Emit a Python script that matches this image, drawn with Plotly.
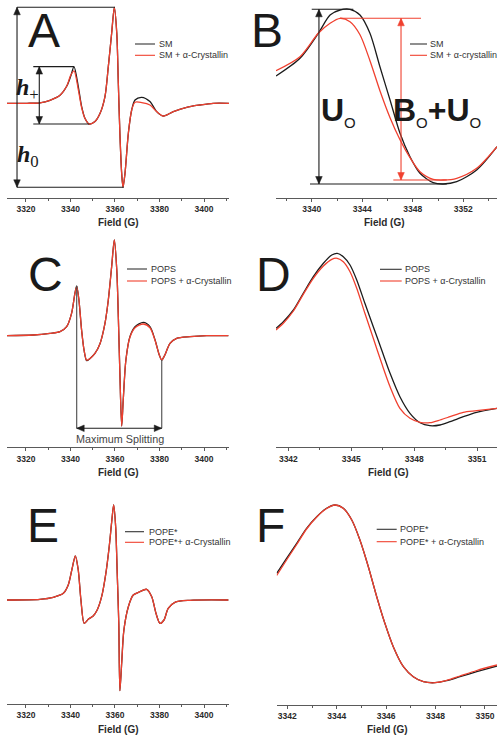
import plotly.graph_objects as go

W, H = 497, 738

# ---------------- data ----------------
# Panel A : SM (full spectrum)
field_A = [3311.5, 3320.5, 3326.3, 3330.8, 3335.3, 3338.3, 3340.1, 3341.6, 3343.5, 3345.0,
           3346.5, 3348.4, 3351.0, 3353.3, 3355.5, 3357.0, 3358.5, 3359.7, 3360.8, 3361.5,
           3362.2, 3363.0, 3363.6, 3364.5, 3366.0, 3367.5, 3369.0, 3372.0, 3375.7, 3378.7,
           3381.7, 3386.2, 3392.2, 3398.2, 3404.1, 3411.2]
sm_A = [0, 0, 0.5, 3, 8, 17, 27, 36.7, 17, -3,
        -15, -20.7, -18.3, -10, 6.7, 36.7, 70, 96, 70, 20,
        -30, -70, -84, -70, -30, -6.7, 3.3, 6, 1.7, -8.3,
        -12.7, -8.3, -4, -1.7, 0, 0]
sm_acr_A = [0, 0, 0.5, 3, 8, 17, 28, 32.5, 14, -4,
            -15, -20.7, -18.3, -10, 6.7, 36.7, 70, 96, 70, 20,
            -30, -70, -84, -70, -30, -6.7, 1, 0.7, -1.7, -8.3,
            -12.7, -8.3, -4, -1.7, 0, 0]

# Panel B : SM, low-field line zoom
field_B = [3337.17, 3339.07, 3340.52, 3341.45, 3342.24, 3343.03, 3343.82, 3344.61, 3345.40,
           3346.20, 3346.99, 3347.78, 3348.57, 3349.62, 3350.42, 3351.48, 3353.06, 3354.67]
sm_B = [121.7, 139.4, 164.4, 182.7, 187.7, 188.4, 182.7, 164.4, 131,
        97.7, 64.4, 41, 24.4, 15, 13.7, 16, 27.7, 51]
sm_acr_B = [127, 141, 164.4, 174.4, 179.4, 176, 163, 137, 107,
            80, 58, 40, 26, 18.4, 17.7, 19.4, 29.4, 51]

# Panel C : POPS (full spectrum)
field_C = [3311.5, 3323.3, 3330.8, 3335.3, 3338.3, 3340.5, 3342.0, 3342.8, 3343.8, 3345.0,
           3346.1, 3347.3, 3348.8, 3351.0, 3353.3, 3355.5, 3357.0, 3358.5, 3359.7, 3360.8,
           3361.5, 3362.2, 3363.0, 3363.7, 3364.9, 3366.7, 3369.0, 3372.7, 3375.7, 3378.0,
           3379.9, 3381.0, 3382.4, 3384.7, 3387.7, 3393.7, 3401.2, 3410.9]
pops_C = [0, 0.7, 2.3, 4, 9, 22.3, 42.3, 49.7, 35.7, 5.7,
          -14.3, -25, -22.7, -17.7, -7.7, 12.3, 35.7, 69, 95.7, 65.7,
          19, -37.7, -90.3, -64.3, -24.3, -1, 9, 13.3, 9, -4.3,
          -19.3, -24.3, -19.3, -7.7, -2.7, -1, 0, 0]
pops_acr_C = [0, 0.7, 2.3, 4, 9, 22.3, 42, 49, 35.7, 5.7,
              -14.3, -24.5, -22.7, -17.7, -7.7, 12.3, 35.7, 69, 95.7, 65.7,
              19, -37.7, -90.3, -64.3, -24.3, -1.5, 8, 11.7, 8, -4.8,
              -19.3, -24.3, -19.3, -7.7, -2.7, -1, 0, 0]

# Panel D : POPS, low-field line zoom
field_D = [3341.41, 3341.76, 3342.24, 3342.71, 3343.19, 3343.67, 3344.07, 3344.33, 3344.62,
           3344.94, 3345.26, 3345.65, 3346.05, 3346.45, 3346.85, 3347.32, 3347.80, 3348.28,
           3348.75, 3349.23, 3349.71, 3350.34, 3350.98, 3351.95]
pops_D = [119, 125.6, 137.3, 154, 170.6, 184, 192.3, 194, 190.6,
          182.3, 167.3, 144, 120.6, 97.3, 74, 50.6, 34, 24.6,
          21.6, 22.3, 25.6, 30.6, 35, 39]
pops_acr_D = [117.3, 124, 136.3, 153, 169, 181.3, 188, 189, 185.6,
              175.6, 159, 134, 109, 84, 60.6, 39, 29, 25,
              24.6, 27.3, 30.6, 35, 36.6, 39]

# Panel E : POPE* (full spectrum)
field_E = [3311.5, 3326.3, 3332.3, 3336.8, 3339.0, 3340.6, 3342.2, 3343.5, 3344.7, 3346.2,
           3348.0, 3350.2, 3352.0, 3354.0, 3355.9, 3357.4, 3358.6, 3359.4, 3360.3, 3361.0,
           3361.7, 3362.2, 3363.0, 3364.0, 3366.0, 3368.2, 3371.2, 3374.2, 3376.5, 3378.4,
           3380.2, 3382.0, 3383.9, 3386.9, 3393.7, 3410.9]
pope_E = [0, 0.7, 2.7, 6.7, 15, 30, 44, 30, 0, -23.3,
          -19.3, -16, -10, 3.3, 26.7, 53.3, 80, 95, 73.3, 26.7,
          -23.3, -90.7, -63.3, -30, -6.7, 5, 8.3, 10.7, 3.3, -13.3,
          -23.3, -20, -8.3, -2.3, -0.3, 0]
pope_acr_E = [0, 0.7, 2.7, 6.7, 15, 30, 44, 30, 0, -23.3,
              -19.3, -16, -10, 3.3, 26.7, 53.3, 80, 95, 73.3, 26.7,
              -23.3, -90.7, -63.3, -30, -6.7, 5, 8.3, 10.7, 3.3, -13.3,
              -23.3, -20, -8.3, -2.3, -0.3, 0]

# Panel F : POPE*, low-field line zoom
field_F = [3341.57, 3341.97, 3342.38, 3342.78, 3343.19, 3343.59, 3343.93, 3344.27, 3344.61,
           3344.94, 3345.28, 3345.62, 3345.95, 3346.29, 3346.70, 3347.10, 3347.51, 3347.98,
           3348.45, 3348.99, 3349.67, 3350.49]
pope_F = [131.7, 146.7, 161.7, 176.7, 188.3, 196.7, 200, 196.7, 185,
          165, 138.3, 108.3, 81.7, 58.3, 38.3, 28.3, 23.3, 22.3,
          24.3, 28.3, 33.3, 39]
pope_acr_F = [129.5, 145, 160.5, 176, 188, 196.5, 200, 196.5, 185,
              165, 138.3, 108.3, 81.7, 58.3, 38.3, 28.3, 23.3, 22.3,
              24.6, 29, 34.5, 40]

legend_A = ["SM", "SM + α-Crystallin"]
legend_B = ["SM", "SM + α-crystallin"]
legend_C = ["POPS", "POPS + α-Crystallin"]
legend_D = ["POPS", "POPS + α-Crystallin"]
legend_E = ["POPE*", "POPE*+ α-Crystallin"]
legend_F = ["POPE*", "POPE* + α-Crystallin"]

# ---------------- styling ----------------
BLACK = "#1c1c1c"
RED = "#f0402f"
GREY = "#4a4a4a"
FONT = "Liberation Sans"


def xd(x0, x1):
    return [x0 / W, x1 / W]


def yd(top, bot):
    return [1 - bot / H, 1 - top / H]


def PX(x, y):
    return x / W, 1 - y / H


fig = go.Figure()

panels = [
    ("", field_A, sm_A, sm_acr_A, legend_A),
    ("2", field_B, sm_B, sm_acr_B, legend_B),
    ("3", field_C, pops_C, pops_acr_C, legend_C),
    ("4", field_D, pops_D, pops_acr_D, legend_D),
    ("5", field_E, pope_E, pope_acr_E, legend_E),
    ("6", field_F, pope_F, pope_acr_F, legend_F),
]
for suf, fx, yb, yr, names in panels:
    fig.add_trace(go.Scatter(x=fx, y=yb, name=names[0], mode="lines",
                             line=dict(color=BLACK, width=1.3, shape="spline", smoothing=0.8),
                             xaxis="x" + suf, yaxis="y" + suf, showlegend=False))
    fig.add_trace(go.Scatter(x=fx, y=yr, name=names[1], mode="lines",
                             line=dict(color=RED, width=1.3, shape="spline", smoothing=0.8),
                             xaxis="x" + suf, yaxis="y" + suf, showlegend=False))


def xaxis(dom, rng, dtick, tick0, minor, anchor):
    return dict(domain=dom, range=rng, anchor=anchor, showline=True, linecolor="#5a5a5a",
                linewidth=1.3, ticks="outside", ticklen=3, tickcolor="#5a5a5a",
                tickwidth=1, dtick=dtick, tick0=tick0, showgrid=False, zeroline=False,
                tickfont=dict(family=FONT, size=8.5, color="#2a2a2a", weight="bold"),
                minor=dict(ticks="outside", ticklen=2, dtick=minor, tick0=tick0,
                           tickcolor="#5a5a5a", showgrid=False),
                fixedrange=True)


def yaxis(dom, rng, anchor):
    return dict(domain=dom, range=rng, anchor=anchor, visible=False, showgrid=False,
                zeroline=False, fixedrange=True)


full_rng = [3311.5, 3411.2]
layout = dict(
    width=W, height=H, margin=dict(l=0, r=0, t=0, b=0),
    paper_bgcolor="white", plot_bgcolor="white", showlegend=False,
    xaxis=xaxis(xd(7, 229), full_rng, 20, 3320, 10, "y"),
    yaxis=yaxis(yd(0, 197.7), [-94.4, 103.3], "x"),
    xaxis2=xaxis(xd(276, 497), [3337.17, 3354.67], 4, 3340, 2, "y2"),
    yaxis2=yaxis(yd(0, 197.7), [0, 197.7], "x2"),
    xaxis3=xaxis(xd(7, 229), full_rng, 20, 3320, 10, "y3"),
    yaxis3=yaxis(yd(238, 447.3), [-111.6, 97.7], "x3"),
    xaxis4=xaxis(xd(276, 497), [3341.41, 3351.95], 3, 3342, 1.5, "y4"),
    yaxis4=yaxis(yd(238, 447.3), [0, 209.3], "x4"),
    xaxis5=xaxis(xd(7, 229), full_rng, 20, 3320, 10, "y5"),
    yaxis5=yaxis(yd(490, 704), [-104, 110], "x5"),
    xaxis6=xaxis(xd(276.7, 497), [3341.57, 3350.49], 2, 3342, 1, "y6"),
    yaxis6=yaxis(yd(490, 705), [0, 215], "x6"),
)
fig.update_layout(**layout)

ann = []
shapes = []


def text_px(x, y, txt, size, color="#1a1a1a", family=FONT, xanchor="center"):
    px, py = PX(x, y)
    ann.append(dict(x=px, y=py, xref="paper", yref="paper", text=txt, showarrow=False,
                    xanchor=xanchor, yanchor="middle",
                    font=dict(family=family, size=size, color=color)))


def seg(xr, yr, x0, y0, x1, y1, color, width=1.1):
    shapes.append(dict(type="line", xref=xr, yref=yr, x0=x0, y0=y0, x1=x1, y1=y1,
                       line=dict(color=color, width=width)))


def head(xr, yr, x, y, direction, color, L=7.5, hw=3.3):
    # filled triangle drawn in pixel units around a data anchor point
    if direction == "up":
        path = f"M0,0 L{-hw},{-L} L{hw},{-L} Z"
    elif direction == "down":
        path = f"M0,0 L{-hw},{L} L{hw},{L} Z"
    elif direction == "left":
        path = f"M0,0 L{L},{-hw} L{L},{hw} Z"
    else:
        path = f"M0,0 L{-L},{-hw} L{-L},{hw} Z"
    shapes.append(dict(type="path", xref=xr, yref=yr, xsizemode="pixel", ysizemode="pixel",
                       xanchor=x, yanchor=y, path=path, fillcolor=color,
                       line=dict(color=color, width=0.5)))


def vdbl(xr, yr, x, ytop, ybot, color):
    seg(xr, yr, x, ytop, x, ybot, color)
    head(xr, yr, x, ytop, "up", color)
    head(xr, yr, x, ybot, "down", color)


def hdbl(xr, yr, x0, x1, y, color):
    seg(xr, yr, x0, y, x1, y, color)
    head(xr, yr, x0, y, "left", color)
    head(xr, yr, x1, y, "right", color)


# panel letters
for letter, (lx, ly) in zip("ABCDEF", [(44, 30), (267, 30), (45, 274), (273, 274),
                                       (43, 525), (270, 525)]):
    text_px(lx, ly, letter, 48)

# x-axis titles
for (fx_, fy_) in [(118, 222.3), (384, 222.3), (118, 472.3), (388, 472.3),
                   (118, 729.3), (387, 729.3)]:
    text_px(fx_, fy_, "<b>Field (G)</b>", 10, color="#2a2a2a")

# legends (drawn)
legend_specs = [
    (legend_A, 135, 155, 156.5, 44, 55.3),
    (legend_B, 410, 427, 428.3, 44, 55.3),
    (legend_C, 127, 147, 148.5, 269, 281),
    (legend_D, 380, 401.7, 403.3, 269.3, 281),
    (legend_E, 125, 144, 146.5, 531.7, 542.3),
    (legend_F, 376.7, 396.7, 398.3, 529.3, 541.7),
]
for names, lx0, lx1, tx, r1, r2 in legend_specs:
    for nm, ry, col in [(names[0], r1, "#333333"), (names[1], r2, RED)]:
        a0 = PX(lx0, ry)
        a1 = PX(lx1, ry)
        seg("paper", "paper", a0[0], a0[1], a1[0], a1[1], col, 1.1)
        text_px(tx, ry, nm, 9, color="#333333", xanchor="left")

# ---- Panel A annotations (h0, h+) ----
h0_top, h0_bot = max(sm_A), min(sm_A)
x_peak = field_A[sm_A.index(h0_top)]
x_trough = field_A[sm_A.index(h0_bot)]
low = [(f, v) for f, v in zip(field_A, sm_A) if f < 3352]
hp_top = max(v for f, v in low)
hp_bot = min(v for f, v in low)
x_hp_top = [f for f, v in low if v == hp_top][0]
x_hp_bot = [f for f, v in low if v == hp_bot][0]
vdbl("x", "y", 3316.0, h0_top, h0_bot, BLACK)
seg("x", "y", 3316.0, h0_top, x_peak + 0.3, h0_top, BLACK)
seg("x", "y", 3316.0, h0_bot, x_trough + 0.3, h0_bot, BLACK)
vdbl("x", "y", 3326.0, hp_top, hp_bot, BLACK)
seg("x", "y", 3323.3, hp_top, x_hp_top, hp_top, BLACK)
seg("x", "y", 3323.3, hp_bot, x_hp_bot, hp_bot, BLACK)
text_px(27, 89, "<b><i>h</i></b><sub>+</sub>", 24, family="Liberation Serif")
text_px(28, 156, "<b><i>h</i></b><sub>0</sub>", 24, family="Liberation Serif")

# ---- Panel B annotations (U0, B0+U0) ----
u_top, u_bot = max(sm_B), min(sm_B)
b_top, b_bot = max(sm_acr_B), min(sm_acr_B)
vdbl("x2", "y2", 3340.57, u_top, u_bot, BLACK)
seg("x2", "y2", 3340.0, u_top, 3343.29, u_top, BLACK)
seg("x2", "y2", 3339.86, u_bot, 3350.69, u_bot, BLACK)
vdbl("x2", "y2", 3347.07, b_top, b_bot, RED)
seg("x2", "y2", 3342.24, b_top, 3348.65, b_top, RED)
seg("x2", "y2", 3346.46, b_bot, 3350.69, b_bot, RED)
text_px(338, 112, "<b>U</b><sub><span style='font-size:15px'>O</span></sub>", 32)
text_px(437, 112, "<b>B</b><sub><span style='font-size:15px'>O</span></sub>"
                  "<b>+U</b><sub><span style='font-size:15px'>O</span></sub>", 32)

# ---- Panel C annotation (maximum splitting) ----
lowC = [i for i, f in enumerate(field_C) if f < 3346]
highC = [i for i, f in enumerate(field_C) if 3376 < f < 3390]
i_lf = max(lowC, key=lambda i: pops_C[i])
i_hf = min(highC, key=lambda i: pops_C[i])
y_split = -92.6
seg("x3", "y3", field_C[i_lf], pops_C[i_lf], field_C[i_lf], y_split, GREY, 1.1)
seg("x3", "y3", field_C[i_hf], pops_C[i_hf], field_C[i_hf], y_split, GREY, 1.1)
hdbl("x3", "y3", field_C[i_lf], field_C[i_hf], y_split, BLACK)
text_px(120, 439, "Maximum Splitting", 10.8, color="#444444")

fig.update_layout(annotations=ann, shapes=shapes)
fig.write_html("out.html", config={"displayModeBar": False},
               post_script="document.body.style.margin='0';document.body.style.overflow='hidden';")
